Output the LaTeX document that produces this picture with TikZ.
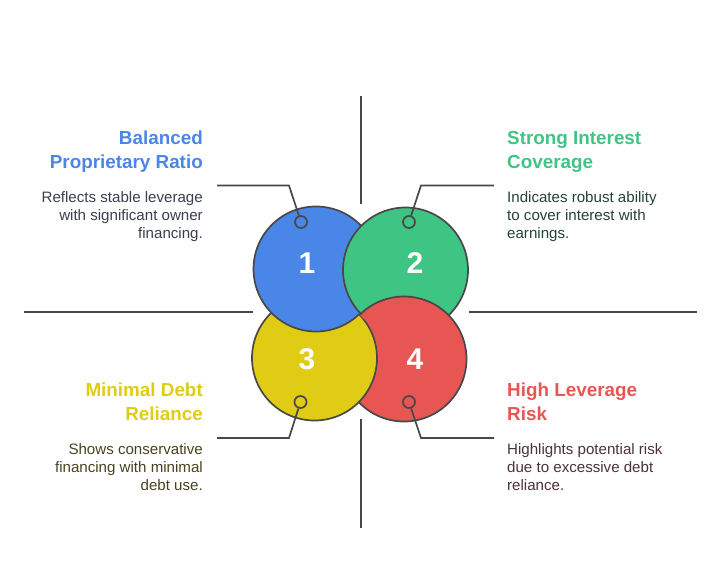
\documentclass[tikz,border=0pt]{standalone}
\usepackage{fontspec}
\setmainfont{Liberation Sans}
\usepackage{xcolor}
\usetikzlibrary{positioning}

\definecolor{ratioblue}{HTML}{4A86E8}
\definecolor{covergreen}{HTML}{3EC584}
\definecolor{debtyellow}{HTML}{E0CB15}
\definecolor{riskred}{HTML}{E85654}
\definecolor{linegray}{HTML}{484848}
\definecolor{bodyblue}{HTML}{36404F}
\definecolor{bodygreen}{HTML}{24413A}
\definecolor{bodyyellow}{HTML}{47431F}
\definecolor{bodyred}{HTML}{4C3235}

\begin{document}
\begin{tikzpicture}[
    x=1pt, y=-1pt,
    disc/.style={circle, draw=linegray, line width=1.7pt, minimum size=125pt, inner sep=0pt},
    pin/.style={circle, draw=linegray, line width=1.7pt, minimum size=12pt, inner sep=0pt},
    leader/.style={draw=linegray, line width=1.7pt},
    axis/.style={draw=linegray, line width=1.7pt},
    num/.style={text=white, font=\fontsize{30}{30}\selectfont\bfseries, inner sep=0pt},
    titleL/.style={anchor=north east, align=right, inner sep=0pt, font=\fontsize{18.85}{24}\selectfont\bfseries},
    titleR/.style={anchor=north west, align=left, inner sep=0pt, font=\fontsize{18.85}{24}\selectfont\bfseries},
    bodyL/.style={anchor=north east, align=right, inner sep=0pt, font=\fontsize{15.1}{18}\selectfont},
    bodyR/.style={anchor=north west, align=left, inner sep=0pt, font=\fontsize{15.1}{18}\selectfont}
]
\useasboundingbox (0,0) rectangle (721,576);

% cross lines
\coordinate (topA) at (361,96);
\coordinate (topB) at (361,204);
\coordinate (botA) at (361,419);
\coordinate (botB) at (361,528);
\coordinate (leftA) at (24,312);
\coordinate (leftB) at (253,312);
\coordinate (rightA) at (469,312);
\coordinate (rightB) at (697,312);
\draw[axis] (topA) -- (topB);
\draw[axis] (botA) -- (botB);
\draw[axis] (leftA) -- (leftB);
\draw[axis] (rightA) -- (rightB);

% circles
\node[disc, fill=riskred] (red) at (404,359) {};
\node[disc, fill=debtyellow] (yellow) at (314.5,358) {};
\node[disc, fill=ratioblue] (blue) at (316,269) {};
\node[disc, fill=covergreen] (green) at (405.5,270) {};
\begin{scope}
    \clip (green.center) circle (64.2);
    \node[disc, fill=riskred] (redtop) at (404,359) {};
\end{scope}

% numbers
\node[num] (n1) at (307,263) {1};
\node[num] (n2) at (415,263) {2};
\node[num] (n3) at (307,359) {3};
\node[num] (n4) at (415,359) {4};

% leaders
\node[pin] (p1) at (301,222) {};
\node[pin] (p2) at (409,222) {};
\node[pin] (p3) at (300.5,402) {};
\node[pin] (p4) at (409,402) {};
\coordinate (a1) at (217,185.5);
\coordinate (b1) at (289,185.5);
\coordinate (a2) at (494,185.5);
\coordinate (b2) at (421,185.5);
\coordinate (a3) at (217,438);
\coordinate (b3) at (289,438);
\coordinate (a4) at (494,438);
\coordinate (b4) at (421,438);
\draw[leader] (a1) -- (b1) -- (p1);
\draw[leader] (a2) -- (b2) -- (p2);
\draw[leader] (a3) -- (b3) -- (p3);
\draw[leader] (a4) -- (b4) -- (p4);

% texts
\node[titleL, text=ratioblue] (t1) at (203,131) {Balanced\\Proprietary Ratio};
\node[bodyL, text=bodyblue] (d1) at (203,191.5) {Reflects stable leverage\\with significant owner\\financing.};
\node[titleR, text=covergreen] (t2) at (507,131) {Strong Interest\\Coverage};
\node[bodyR, text=bodygreen] (d2) at (507,191.5) {Indicates robust ability\\to cover interest with\\earnings.};
\node[titleL, text=debtyellow] (t3) at (203,383) {Minimal Debt\\Reliance};
\node[bodyL, text=bodyyellow] (d3) at (203,443.5) {Shows conservative\\financing with minimal\\debt use.};
\node[titleR, text=riskred] (t4) at (507,383) {High Leverage\\Risk};
\node[bodyR, text=bodyred] (d4) at (507,443.5) {Highlights potential risk\\due to excessive debt\\reliance.};
\end{tikzpicture}
\end{document}
